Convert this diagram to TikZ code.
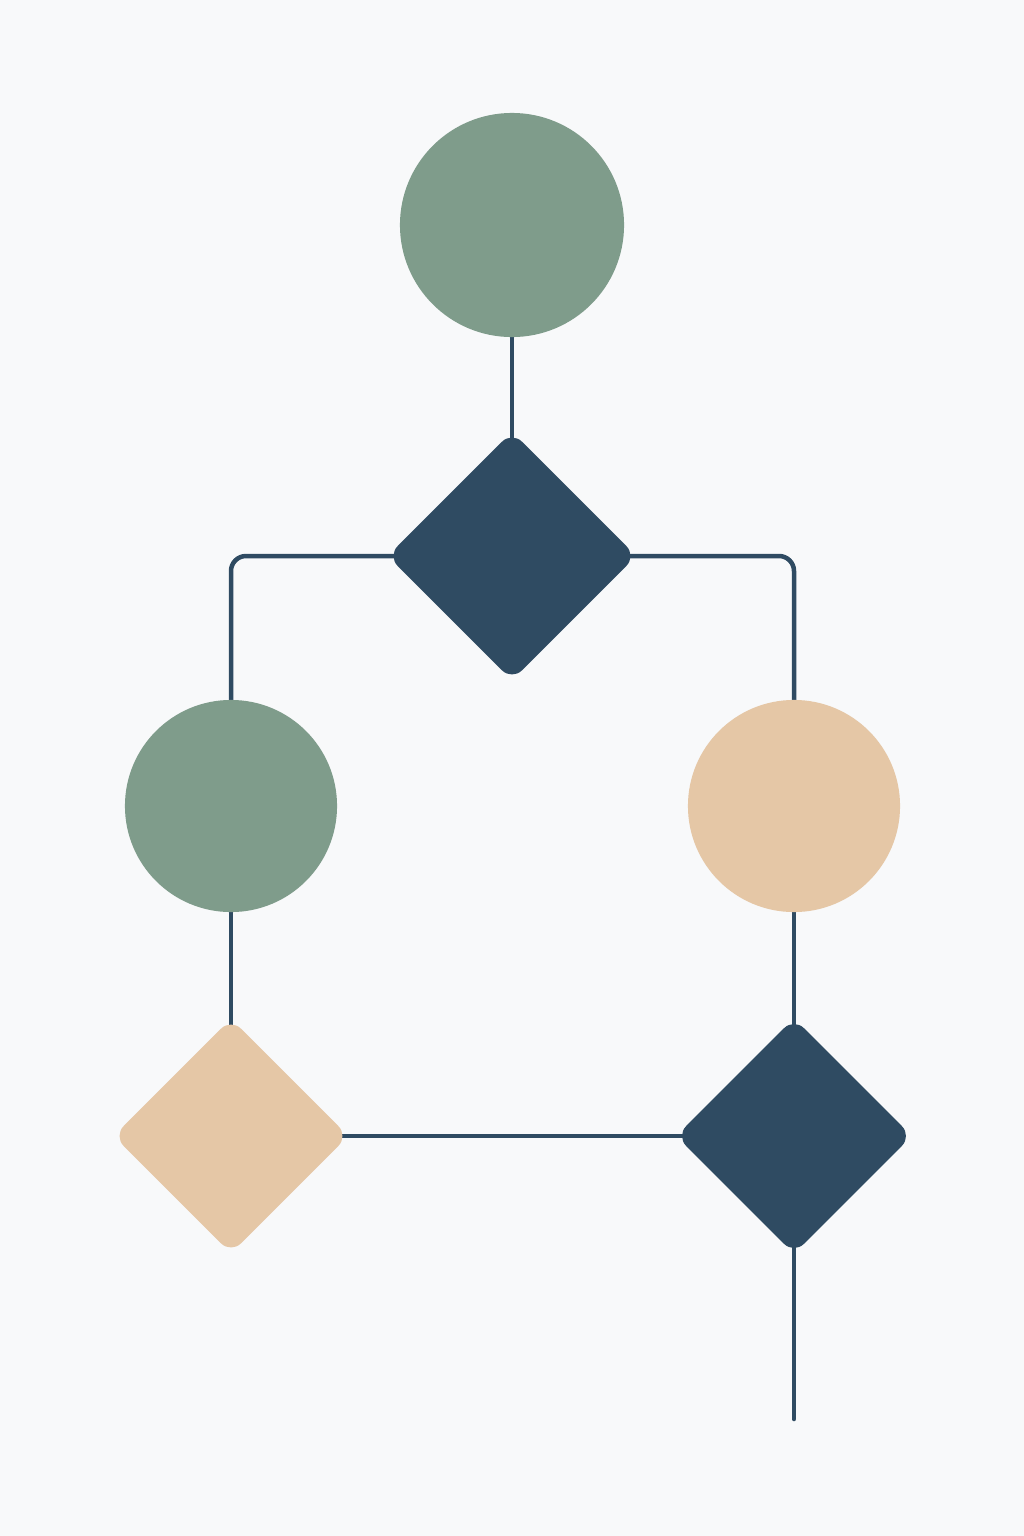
\documentclass[tikz,border=0pt]{standalone}
\usetikzlibrary{shapes.geometric,backgrounds}

\definecolor{sage}{HTML}{7F9C8B}
\definecolor{navy}{HTML}{2F4B62}
\definecolor{peach}{HTML}{E5C7A6}
\definecolor{paper}{HTML}{F8F9FA}

\tikzset{
  bigcirc/.style={circle,fill=#1,inner sep=0pt,minimum size=2.24cm},
  smallcirc/.style={circle,fill=#1,inner sep=0pt,minimum size=2.12cm},
  rhomb/.style={diamond,fill=#1,inner sep=0pt,aspect=1,rounded corners=0.14cm},
  wire/.style={navy,line width=0.045cm,line cap=round,rounded corners=0.15cm}
}

\begin{document}
\begin{tikzpicture}[x=0.01cm,y=-0.01cm]
        % \draw[help lines,xstep=100,ystep=100] (0,0) grid (1024,1536);
        \useasboundingbox (0,0) rectangle (1024,1536);

        % circles
        \node[bigcirc=sage] (start) at (512,225) {};
        \node[smallcirc=sage] (left) at (231,806) {};
        \node[smallcirc=peach] (right) at (794,806) {};

        % diamonds
        \node[rhomb=navy,minimum width=2.49cm,minimum height=2.49cm] (split) at (512,556) {};
        \node[rhomb=peach,minimum width=2.35cm,minimum height=2.35cm] (leftdec) at (231,1136) {};
        \node[rhomb=navy,minimum width=2.36cm,minimum height=2.36cm] (merge) at (794,1136) {};

        \coordinate (out) at (794,1419);

        \begin{scope}[on background layer]
          \fill[paper] (0,0) rectangle (1024,1536);

          % start to split
          \draw[wire] (start.center) -- (split.center);

          % split to both branches
          \draw[wire] (split.center) -| (left.center);
          \draw[wire] (split.center) -| (right.center);

          % branches down
          \draw[wire] (left.center) -- (leftdec.center);
          \draw[wire] (right.center) -- (merge.center);

          % left decision to merge
          \draw[wire] (leftdec.center) -- (merge.center);

          % merge to output
          \draw[wire] (merge.center) -- (out);
        \end{scope}

      \end{tikzpicture}
\end{document}
